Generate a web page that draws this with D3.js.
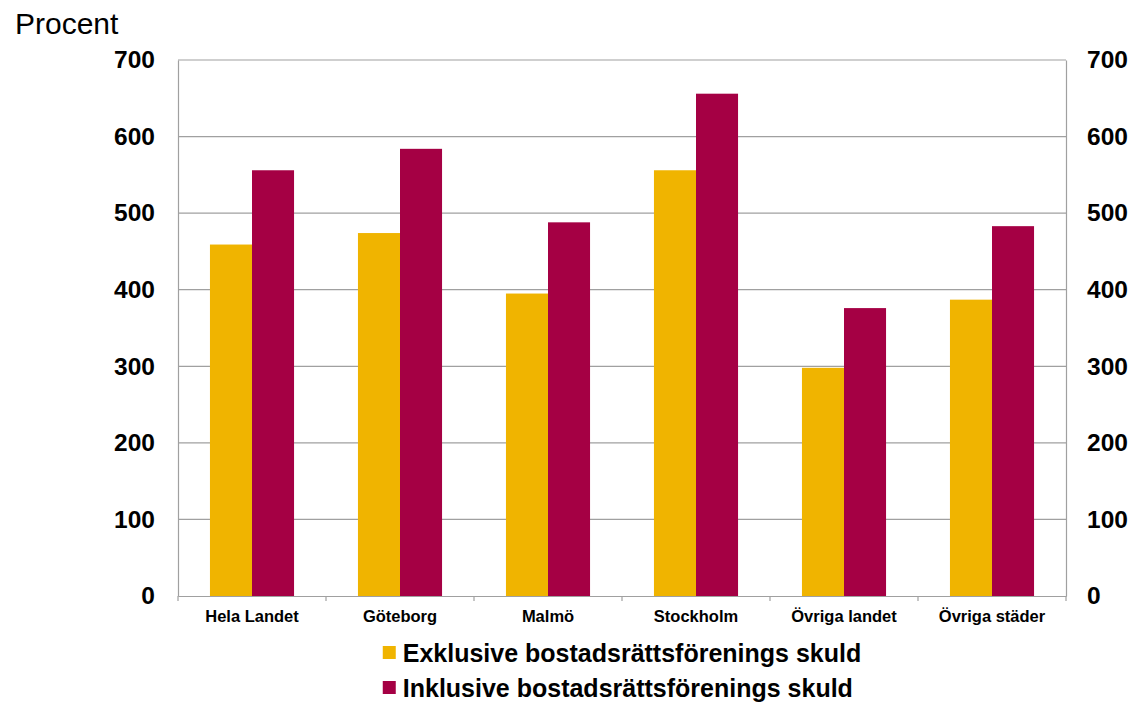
<!DOCTYPE html>
<html>
<head>
<meta charset="utf-8">
<script src="https://cdn.jsdelivr.net/npm/d3@7"></script>
<style>
  body { margin: 0; background: #fff; }
  svg { display: block; font-family: "Liberation Sans", Arial, sans-serif; }
</style>
</head>
<body>
<div id="chart"></div>
<script>
const categories = ['Hela Landet', 'Göteborg', 'Malmö', 'Stockholm', 'Övriga landet', 'Övriga städer'];
const seriesNames = ['Exklusive bostadsrättsförenings skuld', 'Inklusive bostadsrättsförenings skuld'];
const exklusive = [459, 474, 395, 556, 298, 387];
const inklusive = [556, 584, 488, 656, 376, 483];
const yTicks = [0, 100, 200, 300, 400, 500, 600, 700];
const yLabel = 'Procent';

const colors = ['#F0B400', '#A50044'];
const W = 1135, H = 703;
const margin = { top: 60, right: 69, bottom: 107, left: 178 };
const width = W - margin.left - margin.right;
const height = H - margin.top - margin.bottom;

const rows = categories.map((c, i) => ({ category: c, values: [exklusive[i], inklusive[i]] }));

const svg = d3.select('#chart').append('svg')
    .attr('width', W)
    .attr('height', H);

const g = svg.append('g')
    .attr('transform', `translate(${margin.left},${margin.top})`);

// Scales
const x0 = d3.scaleBand().domain(categories).range([0, width]).padding(0);
const x1 = d3.scaleBand().domain([0, 1]).range([0, x0.bandwidth()])
    .paddingInner(0).paddingOuter(0.76);
const y = d3.scaleLinear().domain([0, 700]).range([height, 0]);

// Gridlines
g.append('g')
    .selectAll('line')
    .data(yTicks.filter(d => d > 0))
    .enter().append('line')
    .attr('x1', 0)
    .attr('x2', width)
    .attr('y1', d => y(d))
    .attr('y2', d => y(d))
    .attr('stroke', '#a0a0a0')
    .attr('stroke-width', 1.2);

// Bars
const groups = g.append('g')
    .selectAll('g')
    .data(rows)
    .enter().append('g')
    .attr('transform', d => `translate(${x0(d.category)},0)`);

groups.selectAll('rect')
    .data(d => d.values.map((v, i) => ({ v, i })))
    .enter().append('rect')
    .attr('x', d => x1(d.i))
    .attr('width', x1.bandwidth())
    .attr('y', d => y(d.v))
    .attr('height', d => y(0) - y(d.v))
    .attr('fill', d => colors[d.i]);

// Y axes (left and right)
const leftAxis = g.append('g')
    .call(d3.axisLeft(y).tickValues(yTicks).tickSize(0).tickPadding(23));
const rightAxis = g.append('g')
    .attr('transform', `translate(${width},0)`)
    .call(d3.axisRight(y).tickValues(yTicks).tickSize(0).tickPadding(21));

[leftAxis, rightAxis].forEach(ax => {
    ax.select('.domain').attr('stroke', '#a0a0a0').attr('stroke-width', 1.2);
    ax.selectAll('text')
        .attr('fill', '#000')
        .style('font-size', '24.5px')
        .style('font-weight', 'bold');
});

// X axis
const xAxis = g.append('g')
    .attr('transform', `translate(0,${height})`)
    .call(d3.axisBottom(x0).tickSize(0).tickPadding(14));
xAxis.select('.domain').attr('stroke', '#a0a0a0').attr('stroke-width', 1.2);
xAxis.selectAll('text')
    .attr('fill', '#000')
    .style('font-size', '16.5px')
    .style('font-weight', 'bold');

// Boundary ticks between categories
xAxis.selectAll('.boundary')
    .data(categories.map(c => x0(c)).concat([width]))
    .enter().append('line')
    .attr('class', 'boundary')
    .attr('x1', d => d)
    .attr('x2', d => d)
    .attr('y1', 0)
    .attr('y2', 5)
    .attr('stroke', '#a0a0a0')
    .attr('stroke-width', 1.2);

// Unit label
svg.append('text')
    .attr('x', 15)
    .attr('y', 34)
    .style('font-size', '30px')
    .text(yLabel);

// Legend
const legend = svg.append('g');
const items = legend.selectAll('g')
    .data(seriesNames)
    .enter().append('g')
    .attr('transform', (d, i) => `translate(0,${662 + i * 35})`);

items.append('rect')
    .attr('x', 0)
    .attr('y', -16)
    .attr('width', 13)
    .attr('height', 13)
    .attr('fill', (d, i) => colors[i]);

items.append('text')
    .attr('x', 20)
    .attr('y', 0)
    .style('font-size', '25px')
    .style('font-weight', 'bold')
    .text(d => d);

// Center the legend under the plot
const bb = legend.node().getBBox();
legend.attr('transform', `translate(${margin.left + width / 2 - bb.width / 2},0)`);
</script>
</body>
</html>
